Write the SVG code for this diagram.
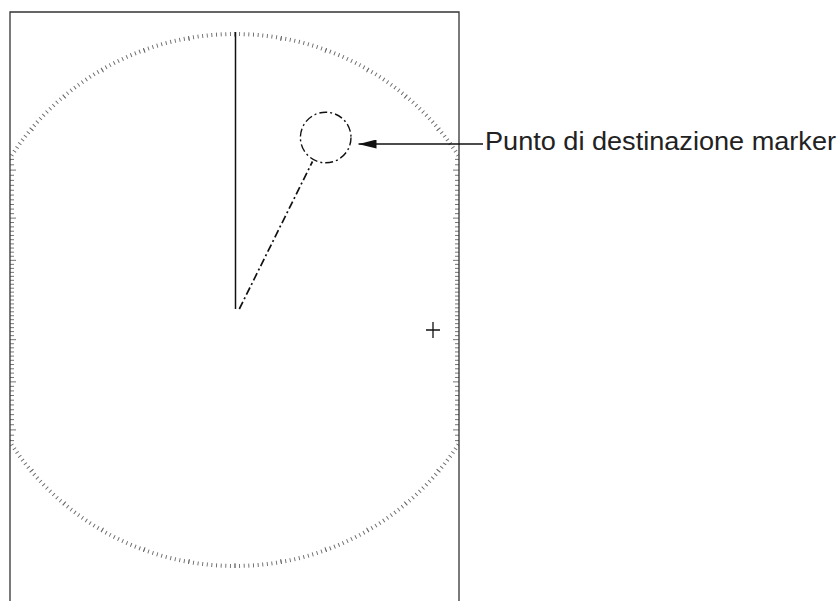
<svg xmlns="http://www.w3.org/2000/svg" xmlns:xlink="http://www.w3.org/1999/xlink" width="840" height="601" viewBox="0 0 840 601">
<style>
.frame{fill:none;stroke:#333;stroke-width:1.3}
.tick{fill:none;stroke:#6a6a6a}
.edge{fill:none;stroke:#666;stroke-width:0.9}
.ink{fill:none;stroke:#111;stroke-linecap:butt}
.label{font-family:"Liberation Sans",Arial,sans-serif;font-size:25px;fill:#222}
</style>
<defs>
<clipPath id="screen"><rect x="10" y="12" width="449" height="589"/></clipPath>
<marker id="arr" viewBox="0 0 18 9" refX="18" refY="4.5" markerWidth="18" markerHeight="9" markerUnits="userSpaceOnUse" orient="auto">
<path d="M18 4.5L0 0L0 9Z" fill="#111"/>
</marker>
<path id="edgeL" class="edge" d="M10 300h4 M10 296.07h4M10 303.93h4 M10 292.14h4M10 307.86h4 M10 288.21h4M10 311.79h4 M10 284.27h4M10 315.73h4 M10 280.31h4M10 319.69h4 M10 276.35h4M10 323.65h4 M10 272.37h4M10 327.63h4 M10 268.38h4M10 331.62h4 M10 264.36h4M10 335.64h4 M10 260.33h6M10 339.67h6 M10 256.26h4M10 343.74h4 M10 252.17h4M10 347.83h4 M10 248.05h4M10 351.95h4 M10 243.9h4M10 356.1h4 M10 239.71h4M10 360.29h4 M10 235.48h4M10 364.52h4 M10 231.21h4M10 368.79h4 M10 226.89h4M10 373.11h4 M10 222.53h4M10 377.47h4 M10 218.11h6M10 381.89h6 M10 213.63h4M10 386.37h4 M10 209.09h4M10 390.91h4 M10 204.49h4M10 395.51h4 M10 199.82h4M10 400.18h4 M10 195.08h4M10 404.92h4 M10 190.26h4M10 409.74h4 M10 185.36h4M10 414.64h4 M10 180.37h4M10 419.63h4 M10 175.28h4M10 424.72h4 M10 170.1h6M10 429.9h6 M10 164.81h4M10 435.19h4 M10 159.4h4M10 440.6h4"/>
</defs>
<g id="scale">
<g clip-path="url(#screen)">
<circle class="tick" cx="235" cy="300" r="266" stroke-width="4" pathLength="3600" stroke-dasharray="2 8" stroke-dashoffset="1"/>
<circle class="tick" cx="235" cy="300" r="265.5" stroke-width="5" pathLength="3600" stroke-dasharray="2 98" stroke-dashoffset="1"/>
</g>
<use xlink:href="#edgeL"/>
<use xlink:href="#edgeL" transform="matrix(-1 0 0 1 469 0)"/>
</g>
<g id="frame"><path class="frame" d="M10 601V12H459V601"/></g>
<g id="heading-line"><line class="ink" x1="235.5" y1="32" x2="235.5" y2="309" stroke-width="1.5"/></g>
<g id="destination-marker"><circle class="ink" cx="325.7" cy="137.5" r="25.3" stroke-width="1.4" stroke-dasharray="8 3 2 3"/></g>
<g id="own-ship-cursor"><path class="ink" d="M426 330h14M433 322v16" stroke-width="1.3"/></g>
<g id="connectors">
<line class="ink" x1="239.3" y1="309" x2="312.5" y2="161.5" stroke-width="1.7" stroke-dasharray="8 3 2 3"/>
<line class="ink" x1="483" y1="144" x2="358.5" y2="144" stroke-width="1.3" marker-end="url(#arr)"/>
</g>
<g id="label"><text class="label" x="485" y="150" textLength="351" lengthAdjust="spacingAndGlyphs">Punto di destinazione marker</text></g>
</svg>
